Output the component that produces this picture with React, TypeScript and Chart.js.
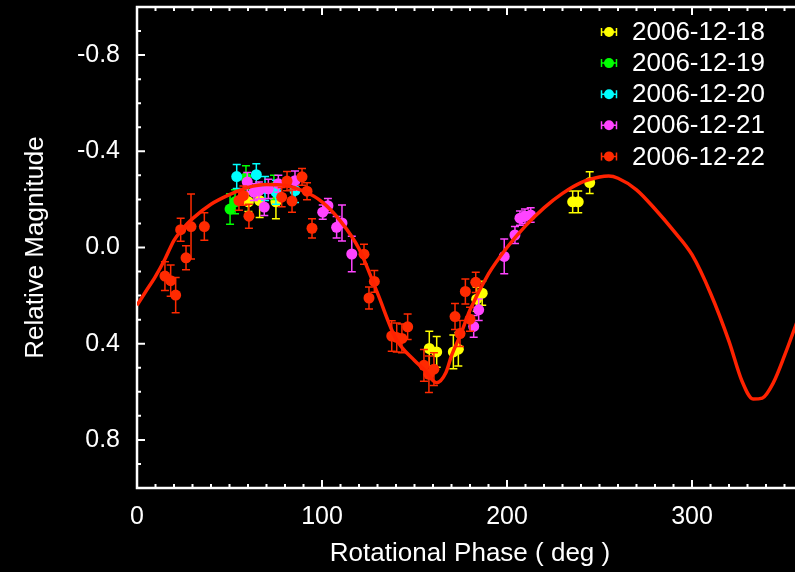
import React, { useEffect, useRef } from "react";
import { Chart, registerables } from "chart.js";
Chart.register(...registerables);

const dates = ["2006-12-18", "2006-12-19", "2006-12-20", "2006-12-21", "2006-12-22"];
const colors = ["#ffff00", "#00ff00", "#00ffff", "#ff44ff", "#ff2a00"];

const phase18 = [60.2, 66.3, 75.1, 158.0, 162.0, 171.0, 173.7, 183.6, 186.6, 235.5, 238.5, 244.7];
const mag18 = [-0.19, -0.195, -0.19, 0.42, 0.434, 0.434, 0.423, 0.215, 0.19, -0.19, -0.19, -0.27];
const err18 = [0.04, 0.07, 0.07, 0.072, 0.064, 0.07, 0.07, 0.05, 0.05, 0.045, 0.045, 0.045];

const phase19 = [50.3, 53.0, 58.9, 74.0];
const mag19 = [-0.16, -0.19, -0.29, -0.25];
const err19 = [0.063, 0.05, 0.05, 0.05];

const phase20 = [53.9, 64.5, 69.2, 75.1, 85.4];
const mag20 = [-0.295, -0.303, -0.245, -0.23, -0.237];
const err20 = [0.05, 0.045, 0.05, 0.05, 0.05];

const phase21 = [59.6, 63.2, 65.9, 68.8, 71.0, 76.4, 85.4, 100.4, 103.2, 107.9, 110.8, 116.1, 182.0, 184.7, 198.5, 204.3, 207.0, 209.7, 212.8];
const mag21 = [-0.272, -0.23, -0.237, -0.168, -0.244, -0.265, -0.278, -0.147, -0.174, -0.084, -0.102, 0.027, 0.328, 0.259, 0.037, -0.052, -0.122, -0.13, -0.135];
const err21 = [0.04, 0.035, 0.035, 0.035, 0.04, 0.035, 0.04, 0.03, 0.03, 0.045, 0.075, 0.074, 0.045, 0.045, 0.072, 0.035, 0.03, 0.03, 0.03];

const phase22 = [15.1, 18.2, 20.9, 23.6, 26.5, 29.2, 36.4, 55.1, 57.5, 60.5, 78.2, 81.1, 83.8, 89.2, 91.9, 94.6, 122.7, 125.4, 128.3, 137.7, 140.4, 143.2, 146.3, 155.1, 157.8, 160.5, 171.9, 174.6, 177.5, 180.0, 183.1];
const mag22 = [0.119, 0.138, 0.198, -0.074, 0.043, -0.087, -0.087, -0.195, -0.216, -0.13, -0.209, -0.276, -0.193, -0.294, -0.234, -0.08, 0.028, 0.21, 0.141, 0.368, 0.374, 0.378, 0.33, 0.49, 0.527, 0.506, 0.287, 0.358, 0.183, 0.298, 0.145];
const err22 = [0.06, 0.065, 0.073, 0.048, 0.05, 0.135, 0.057, 0.04, 0.04, 0.05, 0.04, 0.04, 0.046, 0.035, 0.035, 0.04, 0.042, 0.046, 0.045, 0.063, 0.06, 0.06, 0.053, 0.066, 0.076, 0.068, 0.054, 0.054, 0.052, 0.05, 0.042];

const curvePhase = [0, 5, 10, 15, 20, 25, 30, 40, 50, 60, 70, 80, 90, 100, 110, 120, 130, 140, 150, 155, 162, 167, 170, 175, 180, 190, 200, 210, 220, 230, 240, 250, 255, 260, 270, 280, 290, 300, 310, 320, 327, 333, 338, 344, 350, 360];
const curveMag = [0.24, 0.18, 0.12, 0.05, -0.03, -0.08, -0.12, -0.18, -0.22, -0.25, -0.262, -0.258, -0.235, -0.19, -0.11, 0.005, 0.19, 0.38, 0.47, 0.506, 0.562, 0.52, 0.45, 0.36, 0.26, 0.11, 0.0, -0.09, -0.165, -0.225, -0.27, -0.293, -0.297, -0.288, -0.24, -0.16, -0.07, 0.03, 0.19, 0.39, 0.555, 0.63, 0.626, 0.562, 0.45, 0.24];

const xTickValues = [0, 100, 200, 300];
const yTickValues = [-0.8, -0.4, 0, 0.4, 0.8];

const FONT = "'Liberation Sans', Arial, Helvetica, sans-serif";

const series = [
  { label: dates[0], phase: phase18, mag: mag18, err: err18 },
  { label: dates[1], phase: phase19, mag: mag19, err: err19 },
  { label: dates[2], phase: phase20, mag: mag20, err: err20 },
  { label: dates[3], phase: phase21, mag: mag21, err: err21 },
  { label: dates[4], phase: phase22, mag: mag22, err: err22 },
];

const framePlugin = {
  id: "frame",
  beforeDatasetsDraw(chart: any) {
    const { ctx, chartArea: a, scales } = chart;
    const xs = scales.x;
    const ys = scales.y;
    ctx.save();
    ctx.strokeStyle = "#ffffff";
    ctx.lineWidth = 2.5;
    ctx.strokeRect(a.left, a.top, a.right - a.left, a.bottom - a.top);
    ctx.lineWidth = 2;
    ctx.beginPath();
    for (let v = 0; v <= 360; v += 10) {
      const px = xs.getPixelForValue(v);
      const len = v % 100 === 0 ? 8 : 4;
      ctx.moveTo(px, a.bottom);
      ctx.lineTo(px, a.bottom - len);
      ctx.moveTo(px, a.top);
      ctx.lineTo(px, a.top + len);
    }
    for (let i = -10; i <= 10; i++) {
      const v = i / 10;
      const py = ys.getPixelForValue(v);
      const len = i % 4 === 0 ? 8 : 4;
      ctx.moveTo(a.left, py);
      ctx.lineTo(a.left + len, py);
      ctx.moveTo(a.right, py);
      ctx.lineTo(a.right - len, py);
    }
    ctx.stroke();
    ctx.restore();
  },
};

const errorBarPlugin = {
  id: "errbars",
  beforeDatasetDraw(chart: any, args: any) {
    const ds: any = chart.data.datasets[args.index];
    if (!ds.errs) return;
    const { ctx } = chart;
    const ys = chart.scales.y;
    const meta = chart.getDatasetMeta(args.index);
    ctx.save();
    ctx.strokeStyle = ds.backgroundColor;
    ctx.lineWidth = 1.5;
    ctx.beginPath();
    meta.data.forEach((pt: any, i: number) => {
      const d = ds.data[i];
      const e = ds.errs[i];
      const y1 = ys.getPixelForValue(d.y - e);
      const y2 = ys.getPixelForValue(d.y + e);
      ctx.moveTo(pt.x, y1);
      ctx.lineTo(pt.x, y2);
      ctx.moveTo(pt.x - 4, y1);
      ctx.lineTo(pt.x + 4, y1);
      ctx.moveTo(pt.x - 4, y2);
      ctx.lineTo(pt.x + 4, y2);
    });
    ctx.stroke();
    ctx.restore();
  },
};

const legendPlugin = {
  id: "customLegend",
  afterDraw(chart: any) {
    const { ctx } = chart;
    ctx.save();
    ctx.font = `26px ${FONT}`;
    ctx.textBaseline = "middle";
    ctx.textAlign = "left";
    series.forEach((s, i) => {
      const y = 32 + i * 31.1;
      const x = 609;
      const c = colors[i];
      ctx.strokeStyle = c;
      ctx.fillStyle = c;
      ctx.lineWidth = 1.5;
      ctx.beginPath();
      ctx.moveTo(x - 7.5, y);
      ctx.lineTo(x + 7.5, y);
      ctx.moveTo(x - 7.5, y - 4);
      ctx.lineTo(x - 7.5, y + 4);
      ctx.moveTo(x + 7.5, y - 4);
      ctx.lineTo(x + 7.5, y + 4);
      ctx.stroke();
      ctx.beginPath();
      ctx.arc(x, y, 5, 0, Math.PI * 2);
      ctx.fill();
      ctx.fillStyle = "#ffffff";
      ctx.fillText(s.label, 632, y + 1);
    });
    ctx.restore();
  },
};

export default function App() {
  const ref = useRef<HTMLCanvasElement | null>(null);
  useEffect(() => {
    if (!ref.current) return;
    const datasets: any[] = [
      {
        type: "line",
        label: "fit",
        data: curvePhase.map((p, i) => ({ x: p, y: curveMag[i] })),
        borderColor: "#ff2200",
        borderWidth: 3.5,
        pointRadius: 0,
        tension: 0.3,
        cubicInterpolationMode: "monotone",
        fill: false,
        order: 0,
      },
      ...series.map((s, i) => ({
        type: "scatter",
        label: s.label,
        data: s.phase.map((p, j) => ({ x: p, y: s.mag[j] })),
        errs: s.err,
        backgroundColor: colors[i],
        borderColor: colors[i],
        pointRadius: 5.5,
        pointBorderWidth: 0,
        order: 5 - i,
      })),
    ];
    const chart = new Chart(ref.current, {
      type: "scatter",
      data: { datasets },
      options: {
        animation: false,
        responsive: false,
        devicePixelRatio: 1,
        layout: { padding: { top: 7, right: 7, left: 0, bottom: 0 } },
        plugins: { legend: { display: false }, tooltip: { enabled: false } },
        scales: {
          x: {
            type: "linear",
            min: 0,
            max: 360,
            grid: { display: false, drawTicks: false },
            border: { display: false },
            ticks: { color: "#ffffff", font: { family: FONT, size: 25 }, padding: 14, maxRotation: 0, autoSkip: false },
            afterBuildTicks: (s: any) => {
              s.ticks = xTickValues.map((v) => ({ value: v }));
            },
            afterFit: (s: any) => {
              s.height = 84;
              s.paddingLeft = 0;
              s.paddingRight = 0;
            },
            title: {
              display: true,
              text: "Rotational Phase ( deg )",
              color: "#ffffff",
              font: { family: FONT, size: 26 },
              padding: { top: 0, bottom: 3 },
            },
          },
          y: {
            type: "linear",
            min: -1,
            max: 1,
            reverse: true,
            grid: { display: false, drawTicks: false },
            border: { display: false },
            ticks: {
              color: "#ffffff",
              font: { family: FONT, size: 25 },
              padding: 17,
              callback: (v: any) => Number(v).toFixed(1),
            },
            afterBuildTicks: (s: any) => {
              s.ticks = yTickValues.map((v) => ({ value: v }));
            },
            afterFit: (s: any) => {
              s.width = 137;
              s.paddingTop = 0;
              s.paddingBottom = 0;
            },
            title: {
              display: true,
              text: "Relative Magnitude",
              color: "#ffffff",
              font: { family: FONT, size: 26 },
              padding: { top: 20, bottom: 0 },
            },
          },
        },
      } as any,
      plugins: [framePlugin, errorBarPlugin, legendPlugin],
    });
    return () => chart.destroy();
  }, []);
  return (
    <div style={{ position: "fixed", left: 0, top: 0, width: 795, height: 572, overflow: "hidden", background: "#000" }}>
      <canvas ref={ref} width={810} height={572} style={{ display: "block", width: 810, height: 572 }} />
    </div>
  );
}
